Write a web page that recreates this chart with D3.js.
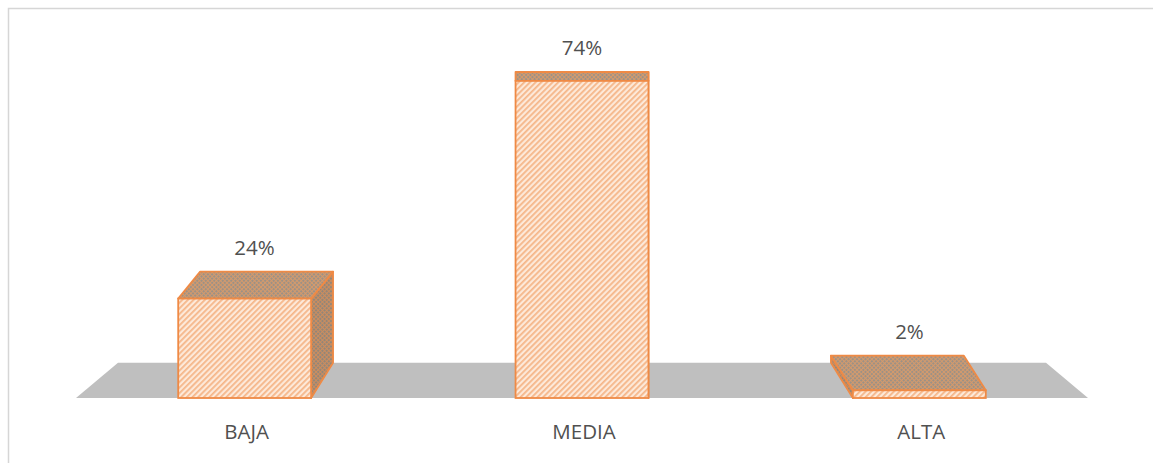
<!DOCTYPE html>
<html>
<head>
<meta charset="utf-8">
<script src="https://cdn.jsdelivr.net/npm/d3@7"></script>
<style>
  html, body { margin: 0; padding: 0; background: #ffffff; }
  svg { display: block; }
  text { font-family: "Open Sans", "Noto Sans", sans-serif; fill: #505050; }
</style>
</head>
<body>
<svg id="chart" width="1153" height="463"></svg>
<script>
// Categories and their shares
const categories = ["BAJA", "MEDIA", "ALTA"];
const values = [0.24, 0.74, 0.02];

const W = 1153, H = 463;
const svg = d3.select("#chart");

// Chart area frame
svg.append("rect")
  .attr("x", 8.5).attr("y", 8.5)
  .attr("width", W).attr("height", H)
  .attr("fill", "#ffffff")
  .attr("stroke", "#d6d6d6")
  .attr("stroke-width", 1.5);

// Front-plane scales
const x = d3.scaleBand()
  .domain(categories)
  .range([76, 1088])
  .paddingInner(0.606)
  .paddingOuter(0.303);

// slight foreshortening of the vertical axis in the 3D view
const y = d3.scalePow().exponent(1.03)
  .domain([0, 0.8])
  .range([398, 54.4]);

// Perspective: depth recedes upward toward a point above the plot centre
const VX = (x.range()[0] + x.range()[1]) / 2;
const VY = -26.5;
const KY = 0.083;   // vertical depth factor
const KX = 0.065;   // horizontal shift of bar back faces
const KF = 0.083;   // floor depth factor

const backBar = (px, py, cx) => [px + KX * (VX - cx), py - KY * (py - VY)];
const backFloor = (px, py) => [px + KF * (VX - px), py - KY * (py - VY)];

// Fill patterns
const defs = svg.append("defs");

const front = defs.append("pattern")
  .attr("id", "hatchFront")
  .attr("patternUnits", "userSpaceOnUse")
  .attr("width", 4).attr("height", 4)
  .attr("patternTransform", "rotate(45)");
front.append("rect").attr("width", 4).attr("height", 4).attr("fill", "#fde9d9");
front.append("rect").attr("width", 1.8).attr("height", 4).attr("fill", "#f5b689");

function cross(id, bg, line) {
  const p = defs.append("pattern")
    .attr("id", id)
    .attr("patternUnits", "userSpaceOnUse")
    .attr("width", 3).attr("height", 3)
    .attr("patternTransform", "rotate(45)");
  p.append("rect").attr("width", 3).attr("height", 3).attr("fill", bg);
  p.append("rect").attr("width", 1).attr("height", 3).attr("fill", line);
  p.append("rect").attr("width", 3).attr("height", 1).attr("fill", line);
}
cross("hatchTop", "#9c9186", "#d49a6c");
cross("hatchSide", "#928679", "#cc8d5e");

// Floor
const fx0 = x.range()[0], fx1 = x.range()[1], fy = y(0);
const floorPts = [[fx0, fy], [fx1, fy], backFloor(fx1, fy), backFloor(fx0, fy)];
svg.append("path")
  .attr("d", d3.line()(floorPts) + "Z")
  .attr("fill", "#bfbfbf");

const line = d3.line();
const STROKE = "#ef8a45";

const bars = svg.append("g");
categories.forEach((c, i) => {
  const v = values[i];
  const x0 = x(c), x1 = x(c) + x.bandwidth();
  const cx = x0 + x.bandwidth() / 2;
  const yt = y(v), yb = y(0);
  const g = bars.append("g");

  // visible side face
  const sx = cx < VX ? x1 : x0;
  const side = [[sx, yt], [sx, yb], backBar(sx, yb, cx), backBar(sx, yt, cx)];
  g.append("path")
    .attr("d", line(side) + "Z")
    .attr("fill", "url(#hatchSide)")
    .attr("stroke", STROKE).attr("stroke-width", 1.8)
    .attr("stroke-linejoin", "round");

  // top face
  const top = [[x0, yt], [x1, yt], backBar(x1, yt, cx), backBar(x0, yt, cx)];
  g.append("path")
    .attr("d", line(top) + "Z")
    .attr("fill", "url(#hatchTop)")
    .attr("stroke", STROKE).attr("stroke-width", 1.8)
    .attr("stroke-linejoin", "round");

  // front face
  g.append("rect")
    .attr("x", x0).attr("y", yt)
    .attr("width", x.bandwidth()).attr("height", yb - yt)
    .attr("fill", "url(#hatchFront)")
    .attr("stroke", STROKE).attr("stroke-width", 1.8);

  // value label above the top face
  const bt = backBar(cx, yt, cx);
  g.append("text")
    .attr("x", cx + (bt[0] - cx) * 0.45)
    .attr("y", bt[1] - 24)
    .attr("dy", "0.35em")
    .attr("text-anchor", "middle")
    .attr("font-size", 20.5)
    .text(d3.format(".0%")(v));
});

// Category labels
svg.append("g").selectAll("text")
  .data(categories)
  .join("text")
  .attr("x", d => x(d) + x.bandwidth() / 2 + 2)
  .attr("y", 432)
  .attr("dy", "0.35em")
  .attr("text-anchor", "middle")
  .attr("font-size", 20.5)
  .text(d => d);
</script>
</body>
</html>
